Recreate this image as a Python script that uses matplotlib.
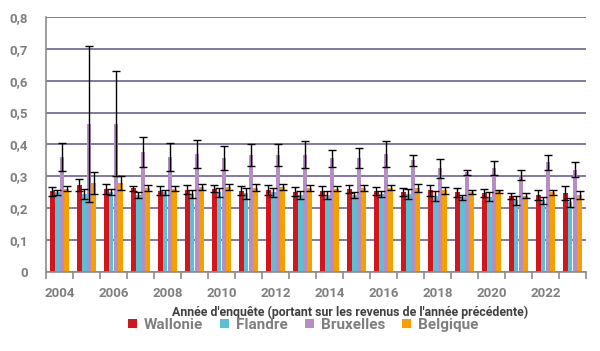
import numpy as np
import matplotlib
matplotlib.use('Agg')
from matplotlib import pyplot as plt
from matplotlib.ticker import FuncFormatter, MultipleLocator

plt.rcParams['font.family'] = ['Liberation Sans Narrow', 'Roboto', 'DejaVu Sans']

years = list(range(2004, 2024))
regions = ['Wallonie', 'Flandre', 'Bruxelles', 'Belgique']
colors = ['#d2161e', '#5bc0d4', '#b78ec3', '#f6a000']

#valeurs et demi-intervalles de confiance
wallonie = [0.253, 0.272, 0.260, 0.262, 0.254, 0.258, 0.261, 0.255, 0.256, 0.251,
            0.254, 0.259, 0.253, 0.251, 0.256, 0.249, 0.247, 0.237, 0.240, 0.246]
wallonie_err = [0.014, 0.019, 0.017, 0.008, 0.014, 0.013, 0.012, 0.013, 0.015, 0.014,
                0.014, 0.013, 0.012, 0.013, 0.017, 0.014, 0.013, 0.009, 0.016, 0.022]
flandre = [0.249, 0.245, 0.250, 0.241, 0.249, 0.245, 0.249, 0.246, 0.249, 0.242,
           0.240, 0.241, 0.244, 0.244, 0.237, 0.234, 0.236, 0.224, 0.224, 0.218]
flandre_err = [0.008, 0.016, 0.010, 0.008, 0.008, 0.012, 0.015, 0.018, 0.015, 0.013,
               0.012, 0.010, 0.009, 0.015, 0.015, 0.008, 0.014, 0.013, 0.012, 0.014]
bruxelles = [0.360, 0.465, 0.465, 0.376, 0.360, 0.370, 0.358, 0.367, 0.367, 0.367,
             0.356, 0.357, 0.370, 0.350, 0.325, 0.312, 0.326, 0.304, 0.343, 0.321]
bruxelles_err = [0.045, 0.245, 0.165, 0.048, 0.045, 0.044, 0.037, 0.034, 0.034, 0.042,
                 0.026, 0.030, 0.042, 0.018, 0.030, 0.009, 0.021, 0.017, 0.022, 0.025]
belgique = [0.261, 0.279, 0.279, 0.262, 0.261, 0.265, 0.266, 0.263, 0.267, 0.262,
            0.261, 0.263, 0.264, 0.262, 0.256, 0.250, 0.252, 0.239, 0.249, 0.240]
belgique_err = [0.008, 0.035, 0.022, 0.009, 0.008, 0.009, 0.008, 0.011, 0.010, 0.009,
                0.008, 0.010, 0.007, 0.012, 0.011, 0.006, 0.006, 0.009, 0.007, 0.012]

series = [wallonie, flandre, bruxelles, belgique]
errors = [wallonie_err, flandre_err, bruxelles_err, belgique_err]

fig = plt.figure(figsize=(6, 3.51), dpi=100)
ax = fig.add_axes([46/600, (351-271.7)/351, 540/600, (271.7-17)/351])

x = np.arange(len(years))
w = 0.185
for i in range(4):
    pos = x - 1.5*w + i*w
    ax.bar(pos, series[i], width=w, color=colors[i], label=regions[i], zorder=2)
    ax.errorbar(pos, series[i], yerr=errors[i], fmt='none', ecolor='black',
                elinewidth=1, capsize=3, capthick=1, zorder=3)

ax.set_xlim(-0.5, len(years) - 0.5)
ax.set_ylim(0, 0.8)
ax.yaxis.set_major_locator(MultipleLocator(0.1))
ax.yaxis.set_major_formatter(FuncFormatter(lambda v, p: '0' if v == 0 else ('%.1f' % v).replace('.', ',')))
ax.grid(axis='y', color='#6b6394', linewidth=1.2, zorder=0)
ax.set_axisbelow(True)

#ticks de separation entre categories, etiquettes aux annees paires
ax.set_xticks(np.arange(-0.5, len(years), 1), minor=True)
ax.set_xticks(x[::2])
ax.set_xticklabels([str(y) for y in years[::2]])
ax.tick_params(axis='x', which='major', length=0, pad=11)
ax.tick_params(axis='x', which='minor', length=5, color='#8c8c8c', width=1.2)
ax.tick_params(axis='y', length=0, pad=13)
for lab in ax.get_xticklabels() + ax.get_yticklabels():
    lab.set_color('#7f7f7f')
    lab.set_fontweight('bold')
    lab.set_fontsize(9.5)

for s in ['top', 'right']:
    ax.spines[s].set_visible(False)
for s in ['left', 'bottom']:
    ax.spines[s].set_color('#8c8c8c')
    ax.spines[s].set_linewidth(1.2)

fig.text(350/600, 1 - 312/351, "Année d'enquête (portant sur les revenus de l'année précédente)",
         ha='center', va='center', color='#404040', fontweight='bold', fontsize=8.9)

leg = fig.legend(loc='center', bbox_to_anchor=(303/600, 1 - 325/351), ncol=4, frameon=False,
                 handlelength=0.6, handleheight=0.6, handletextpad=0.45, columnspacing=1.1,
                 borderpad=0, prop={'weight': 'bold', 'size': 11})
for t in leg.get_texts():
    t.set_color('#7f7f7f')

fig.savefig('out.png', dpi=100)
